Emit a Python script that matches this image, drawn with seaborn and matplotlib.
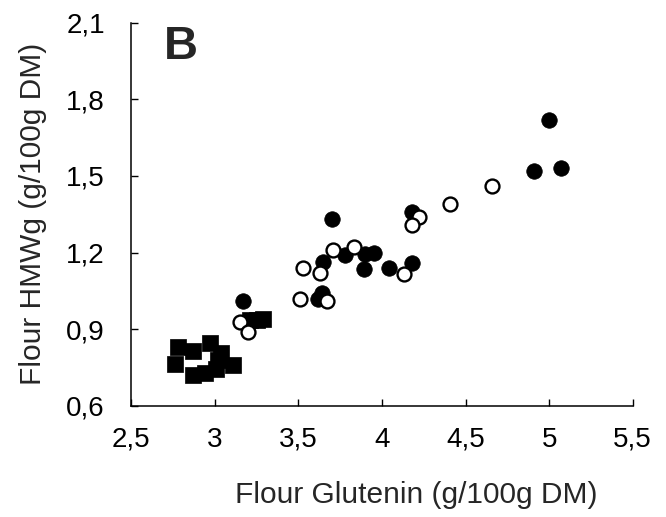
import matplotlib
matplotlib.use("Agg")
import matplotlib.pyplot as plt
import seaborn as sns
import pandas as pd

# Filled circles
filled_x = [5.00, 4.91, 5.07, 4.18, 4.18, 4.04, 3.70, 3.78, 3.90, 3.95, 3.89, 3.65, 3.62, 3.64, 3.17]
filled_y = [1.72, 1.52, 1.53, 1.36, 1.16, 1.14, 1.33, 1.19, 1.195, 1.20, 1.135, 1.165, 1.02, 1.04, 1.01]
# Open circles
open_x = [4.66, 4.41, 4.22, 4.18, 4.13, 3.83, 3.71, 3.53, 3.63, 3.51, 3.67, 3.15, 3.20]
open_y = [1.46, 1.39, 1.34, 1.31, 1.115, 1.22, 1.21, 1.14, 1.12, 1.02, 1.01, 0.93, 0.89]
# Filled squares
sq_x = [2.78, 2.97, 2.87, 2.76, 2.87, 2.94, 3.02, 3.01, 3.11, 3.04, 3.21, 3.25, 3.29]
sq_y = [0.83, 0.845, 0.815, 0.765, 0.72, 0.73, 0.78, 0.745, 0.76, 0.805, 0.935, 0.935, 0.94]

x_ticks = [2.5, 3, 3.5, 4, 4.5, 5, 5.5]
x_labels = ["2,5", "3", "3,5", "4", "4,5", "5", "5,5"]
y_ticks = [0.6, 0.9, 1.2, 1.5, 1.8, 2.1]
y_labels = ["0,6", "0,9", "1,2", "1,5", "1,8", "2,1"]

sns.set_style("ticks")
plt.rcParams['font.family'] = ['Liberation Sans', 'DejaVu Sans']

fig = plt.figure(figsize=(6.66, 5.17), dpi=100)
ax = fig.add_axes([0.197, 0.215, 0.753, 0.741])

df_sq = pd.DataFrame({"x": sq_x, "y": sq_y})
df_f = pd.DataFrame({"x": filled_x, "y": filled_y})
df_o = pd.DataFrame({"x": open_x, "y": open_y})

sns.scatterplot(data=df_sq, x="x", y="y", marker="s", s=120, color="black",
                edgecolor="black", linewidth=0.5, ax=ax, zorder=3)
sns.scatterplot(data=df_f, x="x", y="y", marker="o", s=125, color="black",
                edgecolor="black", linewidth=0.5, ax=ax, zorder=3)
sns.scatterplot(data=df_o, x="x", y="y", marker="o", s=100, color="white",
                edgecolor="black", linewidth=1.7, ax=ax, zorder=4)

ax.set_xlim(2.5, 5.5)
ax.set_ylim(0.6, 2.1)
ax.set_xticks(x_ticks)
ax.set_xticklabels(x_labels)
ax.set_yticks(y_ticks)
ax.set_yticklabels(y_labels)
ax.tick_params(direction="in", length=5, width=1, labelsize=20, colors="black")
ax.tick_params(axis="x", pad=15)
ax.tick_params(axis="y", pad=19)
for s in ["top", "right"]:
    ax.spines[s].set_visible(False)
for s in ["left", "bottom"]:
    ax.spines[s].set_linewidth(1.1)
    ax.spines[s].set_color("black")

ax.set_xlabel("Flour Glutenin (g/100g DM)", fontsize=21.5)
ax.xaxis.set_label_coords(0.569, -0.195)
ax.set_ylabel("Flour HMWg (g/100g DM)", fontsize=21.5, labelpad=14)
ax.text(0.099, 0.936, "B", transform=ax.transAxes, fontsize=34, fontweight="bold",
        ha="center", va="center")

fig.savefig("out.png", dpi=100)
